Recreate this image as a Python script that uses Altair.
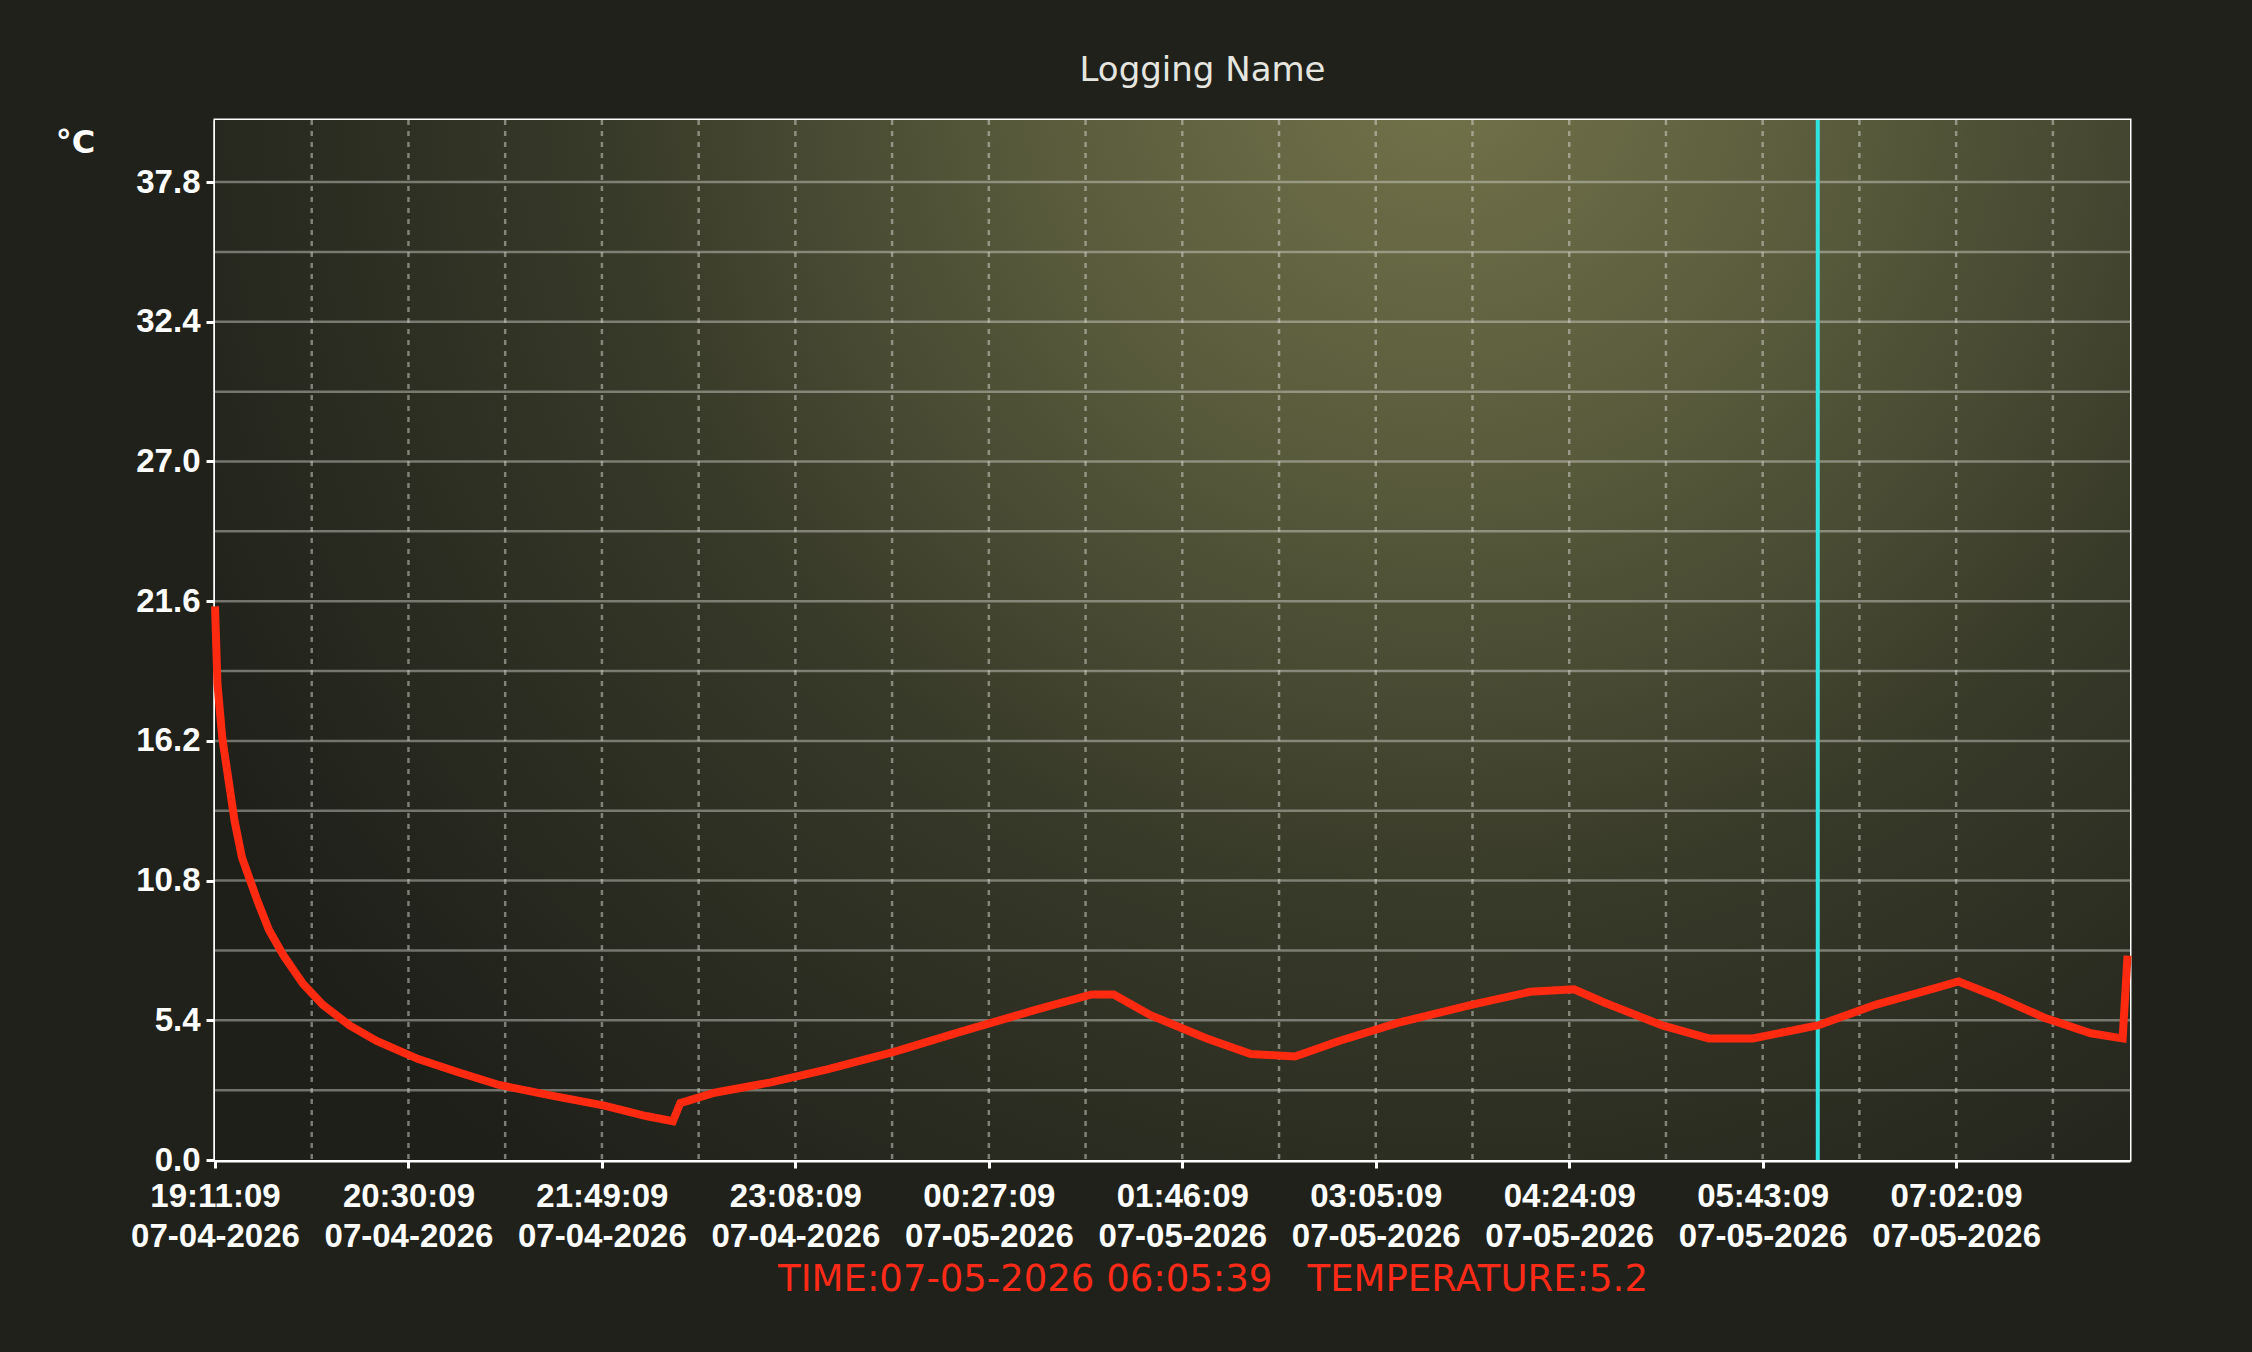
import altair as alt
import pandas as pd

# ---------------- data ----------------
times = [
    "2026-07-04T19:11:09", "2026-07-04T19:12:09", "2026-07-04T19:14:09", "2026-07-04T19:16:39",
    "2026-07-04T19:19:09", "2026-07-04T19:22:09", "2026-07-04T19:28:09", "2026-07-04T19:33:09",
    "2026-07-04T19:39:09", "2026-07-04T19:47:09", "2026-07-04T19:55:09", "2026-07-04T20:06:09",
    "2026-07-04T20:17:09", "2026-07-04T20:34:09", "2026-07-04T20:50:09", "2026-07-04T21:07:09",
    "2026-07-04T21:28:09", "2026-07-04T21:50:09", "2026-07-04T22:07:09", "2026-07-04T22:18:09",
    "2026-07-04T22:21:09", "2026-07-04T22:35:09", "2026-07-04T22:58:09", "2026-07-04T23:21:09",
    "2026-07-04T23:49:09", "2026-07-05T00:17:09", "2026-07-05T00:46:09", "2026-07-05T01:09:09",
    "2026-07-05T01:18:09", "2026-07-05T01:33:09", "2026-07-05T01:56:09", "2026-07-05T02:14:09",
    "2026-07-05T02:32:09", "2026-07-05T02:50:09", "2026-07-05T03:14:09", "2026-07-05T03:44:09",
    "2026-07-05T04:08:09", "2026-07-05T04:26:09", "2026-07-05T04:38:09", "2026-07-05T05:02:09",
    "2026-07-05T05:21:09", "2026-07-05T05:39:09", "2026-07-05T06:05:39", "2026-07-05T06:29:09",
    "2026-07-05T06:48:09", "2026-07-05T07:03:09", "2026-07-05T07:19:09", "2026-07-05T07:38:09",
    "2026-07-05T07:57:09", "2026-07-05T08:10:09", "2026-07-05T08:12:09",
]
temps = [
    21.4, 18.4, 16.3, 14.7,
    13.1, 11.7, 10.1, 8.9,
    7.9, 6.8, 6.0, 5.2,
    4.6, 3.9, 3.4, 2.9,
    2.5, 2.1, 1.7, 1.5,
    2.2, 2.6, 3.0, 3.5,
    4.2, 5.0, 5.8, 6.4,
    6.4, 5.6, 4.7, 4.1,
    4.0, 4.6, 5.3, 6.0,
    6.5, 6.6, 6.1, 5.2,
    4.7, 4.7, 5.2, 6.0,
    6.5, 6.9, 6.3, 5.5,
    4.9, 4.7, 7.9,
]

x_tick_times = [
    "2026-07-04T19:11:09", "2026-07-04T20:30:09", "2026-07-04T21:49:09", "2026-07-04T23:08:09",
    "2026-07-05T00:27:09", "2026-07-05T01:46:09", "2026-07-05T03:05:09", "2026-07-05T04:24:09",
    "2026-07-05T05:43:09", "2026-07-05T07:02:09",
]
x_grid_times = [
    "2026-07-04T19:50:39", "2026-07-04T20:30:09", "2026-07-04T21:09:39", "2026-07-04T21:49:09",
    "2026-07-04T22:28:39", "2026-07-04T23:08:09", "2026-07-04T23:47:39", "2026-07-05T00:27:09",
    "2026-07-05T01:06:39", "2026-07-05T01:46:09", "2026-07-05T02:25:39", "2026-07-05T03:05:09",
    "2026-07-05T03:44:39", "2026-07-05T04:24:09", "2026-07-05T05:03:39", "2026-07-05T05:43:09",
    "2026-07-05T06:22:39", "2026-07-05T07:02:09", "2026-07-05T07:41:39",
]
y_tick_values = [0.0, 5.4, 10.8, 16.2, 21.6, 27.0, 32.4, 37.8]
y_grid_values = [2.7, 5.4, 8.1, 10.8, 13.5, 16.2, 18.9, 21.6, 24.3, 27.0, 29.7, 32.4, 35.1, 37.8]
x_domain = ["2026-07-04T19:11:09", "2026-07-05T08:13:09"]
y_domain = [0.0, 40.2]

cursor_time = "2026-07-05T06:05:39"
cursor_time_label = "07-05-2026 06:05:39"
cursor_temp = 5.2
title_text = "Logging Name"
unit_text = "°C"


def dt(s):
    t = pd.Timestamp(s)
    return alt.DateTime(year=t.year, month=t.month, date=t.day,
                        hours=t.hour, minutes=t.minute, seconds=t.second)


W, H = 1915, 1040
LABEL_FONT = "Liberation Sans Narrow, Liberation Sans, Arial, sans-serif"
GAP = "\u00a0\u00a0\u00a0"

xscale = alt.Scale(domain=[dt(s) for s in x_domain], nice=False)
yscale = alt.Scale(domain=y_domain, nice=False, zero=False)

xaxis = alt.Axis(
    values=[dt(s) for s in x_tick_times],
    labelExpr="[timeFormat(datum.value, '%H:%M:%S'), timeFormat(datum.value, '%m-%d-%Y')]",
    grid=False,
    domainColor="white", domainWidth=4,
    tickColor="white", tickWidth=3, tickSize=8,
    labelColor="white", labelFont=LABEL_FONT, labelFontWeight="bold",
    labelFontSize=33, labelLineHeight=40, labelPadding=12,
    labelAlign="center", labelBaseline="top", labelFlush=False, labelOverlap=False,
    title=f"TIME:{cursor_time_label}{GAP}TEMPERATURE:{cursor_temp}",
    titleColor="#ff2a18", titleFont="DejaVu Sans, sans-serif", titleFontWeight="normal",
    titleFontSize=37, titlePadding=8, titleX=W / 2 + 40,
)
yaxis = alt.Axis(
    values=y_tick_values, format=".1f", grid=False,
    domainColor="white", domainWidth=4,
    tickColor="white", tickWidth=3, tickSize=9,
    labelColor="white", labelFont=LABEL_FONT, labelFontWeight="bold",
    labelFontSize=33, labelPadding=6, labelFlush=False, labelOverlap=False,
    title=unit_text, titleAngle=0, titleColor="white", titleFontSize=32,
    titleFontWeight="bold", titleFont="DejaVu Sans, sans-serif",
    titleX=-140, titleY=22, titleAlign="center", titleBaseline="middle",
)

# background glare rect over the whole plot domain
bg_df = pd.DataFrame({"x": [x_domain[0]], "x2": [x_domain[1]], "y": [y_domain[0]], "y2": [y_domain[1]]})
glare = alt.RadialGradient(
    gradient="radial", x1=0.64, y1=0.2, r1=0.0, x2=0.64, y2=0.2, r2=0.75,
    stops=[
        alt.GradientStop(color="#73734a", offset=0.0),
        alt.GradientStop(color="#57593b", offset=0.3),
        alt.GradientStop(color="#363828", offset=0.6),
        alt.GradientStop(color="#1e1f19", offset=1.0),
    ],
)
bg = alt.Chart(bg_df).mark_rect(color=glare).encode(
    x=alt.X("x:T", scale=xscale, axis=xaxis),
    x2="x2:T",
    y=alt.Y("y:Q", scale=yscale, axis=yaxis),
    y2="y2:Q",
)

hgrid = alt.Chart(pd.DataFrame({"v": y_grid_values})).mark_rule(
    color="#d8d8d0", opacity=0.45, strokeWidth=2.5
).encode(y=alt.Y("v:Q", scale=yscale, axis=yaxis))

vgrid = alt.Chart(pd.DataFrame({"t": x_grid_times})).mark_rule(
    color="#d8d8d0", opacity=0.5, strokeWidth=2.5, strokeDash=[5, 6]
).encode(x=alt.X("t:T", scale=xscale, axis=xaxis))

cursor = alt.Chart(pd.DataFrame({"t": [cursor_time]})).mark_rule(
    color="#2fe3e0", strokeWidth=4
).encode(x=alt.X("t:T", scale=xscale, axis=xaxis))

line = alt.Chart(pd.DataFrame({"time": times, "temp": temps})).mark_line(
    color="#ff2a10", strokeWidth=8, interpolate="linear"
).encode(
    x=alt.X("time:T", scale=xscale, axis=xaxis),
    y=alt.Y("temp:Q", scale=yscale, axis=yaxis),
)

chart = alt.layer(bg, hgrid, vgrid, cursor, line).properties(
    width=W, height=H,
    title=alt.TitleParams(
        title_text, color="#e6e6e0", fontSize=34, font="DejaVu Sans, sans-serif",
        fontWeight="normal", anchor="middle", offset=30, dx=30,
    ),
    padding={"left": 215, "top": 120, "right": 122, "bottom": 192},
    autosize=alt.AutoSizeParams(type="none"),
    background="#20211b",
).configure_view(stroke="white", strokeWidth=3)

chart.save("out.html", embed_options={"renderer": "svg", "actions": False})
